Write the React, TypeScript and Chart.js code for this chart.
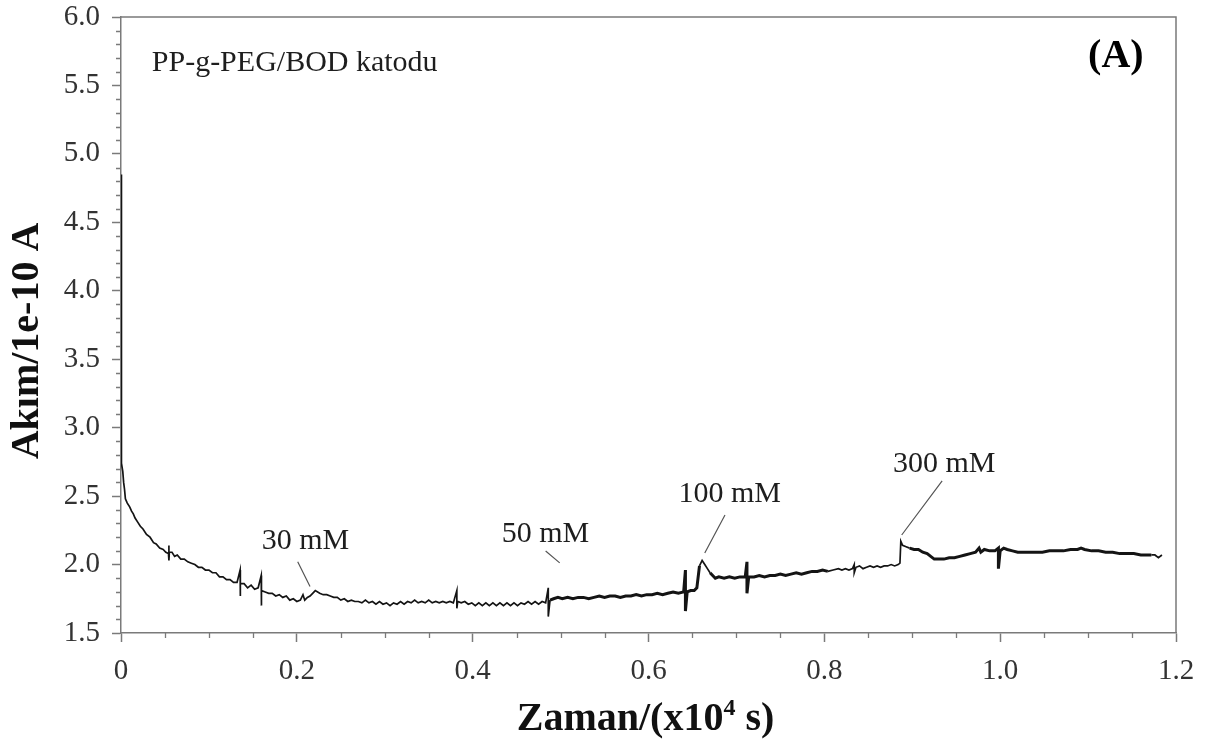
import React, { useEffect, useRef } from 'react';
import { Chart, registerables } from 'chart.js';

Chart.register(...registerables);

// ---- Data: [time (x10^4 s), current (1e-10 A)] ----
const decaySamples: [number, number][] = [
  [0, 4.85], [0.0005, 2.74], [0.002, 2.68], [0.003, 2.6], [0.004, 2.55], [0.005, 2.48],
  [0.007, 2.45], [0.01, 2.42], [0.012, 2.39], [0.014, 2.37], [0.016, 2.34], [0.019, 2.31],
  [0.022, 2.28], [0.025, 2.26], [0.029, 2.22], [0.033, 2.2], [0.037, 2.16], [0.04, 2.15],
  [0.044, 2.12], [0.048, 2.11], [0.051, 2.09], [0.054, 2.08], [0.0545, 2.14], [0.0545, 2.03],
  [0.055, 2.09], [0.058, 2.09], [0.061, 2.06], [0.064, 2.07], [0.068, 2.04], [0.072, 2.04],
  [0.076, 2.02], [0.08, 2.01], [0.084, 2.0], [0.088, 1.98], [0.092, 1.98], [0.096, 1.96],
  [0.1, 1.96], [0.104, 1.94], [0.108, 1.94], [0.112, 1.91], [0.116, 1.91], [0.12, 1.89],
  [0.124, 1.89], [0.128, 1.87], [0.132, 1.87], [0.1355, 1.96], [0.1355, 1.77], [0.136, 1.86],
  [0.14, 1.86], [0.144, 1.83], [0.148, 1.85], [0.152, 1.82], [0.156, 1.83], [0.1595, 1.92],
  [0.1595, 1.7], [0.16, 1.81], [0.164, 1.8], [0.168, 1.79], [0.172, 1.79], [0.176, 1.77],
  [0.18, 1.78], [0.184, 1.76], [0.188, 1.77], [0.192, 1.74], [0.196, 1.75], [0.2, 1.73],
  [0.204, 1.74], [0.207, 1.78], [0.209, 1.74], [0.212, 1.76], [0.215, 1.77], [0.218, 1.79],
  [0.221, 1.81], [0.226, 1.79], [0.23, 1.78], [0.234, 1.78], [0.238, 1.77], [0.242, 1.76],
  [0.246, 1.76], [0.25, 1.74], [0.254, 1.75], [0.258, 1.73], [0.262, 1.74], [0.266, 1.73],
  [0.27, 1.73],
];

const baselineSamples: [number, number][] = [
  [0.274, 1.72], [0.278, 1.74], [0.282, 1.72], [0.286, 1.73], [0.29, 1.71], [0.294, 1.73],
  [0.298, 1.71], [0.302, 1.72], [0.306, 1.7], [0.31, 1.72], [0.314, 1.71], [0.318, 1.73],
  [0.322, 1.71], [0.326, 1.73], [0.33, 1.72], [0.334, 1.74], [0.338, 1.72], [0.342, 1.73],
  [0.346, 1.72], [0.35, 1.74], [0.354, 1.72], [0.358, 1.73], [0.362, 1.72], [0.366, 1.73],
  [0.37, 1.72], [0.374, 1.73], [0.378, 1.72], [0.382, 1.81], [0.382, 1.68], [0.383, 1.73],
  [0.387, 1.72], [0.391, 1.73], [0.395, 1.71], [0.399, 1.72], [0.403, 1.7], [0.407, 1.72],
  [0.411, 1.7], [0.415, 1.72], [0.419, 1.7], [0.423, 1.72], [0.427, 1.7], [0.431, 1.72],
  [0.435, 1.7], [0.439, 1.72], [0.443, 1.7], [0.447, 1.72], [0.451, 1.7], [0.455, 1.72],
  [0.459, 1.71], [0.463, 1.73], [0.467, 1.71], [0.471, 1.73], [0.475, 1.71], [0.479, 1.73],
  [0.483, 1.72], [0.486, 1.83], [0.486, 1.62], [0.488, 1.74],
];

const rampSamples: [number, number][] = [
  [0.492, 1.75], [0.497, 1.76], [0.502, 1.75], [0.508, 1.76], [0.514, 1.75], [0.52, 1.76],
  [0.526, 1.76], [0.532, 1.75], [0.538, 1.76], [0.544, 1.77], [0.55, 1.76], [0.556, 1.77],
  [0.562, 1.77], [0.568, 1.76], [0.574, 1.77], [0.58, 1.77], [0.586, 1.78], [0.592, 1.77],
  [0.598, 1.78], [0.604, 1.78], [0.61, 1.79], [0.616, 1.78], [0.622, 1.79], [0.628, 1.8],
  [0.634, 1.79], [0.64, 1.8], [0.642, 1.96], [0.642, 1.66], [0.644, 1.8], [0.648, 1.81],
  [0.652, 1.81], [0.655, 1.83],
];

const step100Samples: [number, number][] = [
  [0.658, 1.99], [0.661, 2.03], [0.664, 2.0], [0.667, 1.97], [0.67, 1.94], [0.673, 1.92],
  [0.676, 1.9], [0.68, 1.91], [0.686, 1.9], [0.692, 1.91], [0.698, 1.9], [0.704, 1.91],
  [0.71, 1.91], [0.712, 2.02], [0.712, 1.79], [0.714, 1.91], [0.72, 1.91], [0.726, 1.92],
  [0.732, 1.91], [0.738, 1.92], [0.744, 1.92], [0.75, 1.93], [0.756, 1.92], [0.762, 1.93],
  [0.768, 1.94], [0.774, 1.93], [0.78, 1.94], [0.786, 1.95], [0.792, 1.95], [0.798, 1.96],
  [0.804, 1.95], [0.81, 1.96], [0.816, 1.97], [0.82, 1.96], [0.824, 1.97], [0.828, 1.96],
  [0.832, 1.97], [0.834, 2.0], [0.834, 1.94], [0.836, 1.98], [0.84, 1.99], [0.844, 1.97],
  [0.848, 1.98], [0.852, 1.99], [0.856, 1.98], [0.86, 1.99], [0.864, 1.98], [0.868, 1.99],
  [0.872, 1.99], [0.876, 2.0], [0.88, 1.99], [0.884, 2.0], [0.886, 2.01],
];

const step300Samples: [number, number][] = [
  [0.887, 2.17], [0.889, 2.14], [0.893, 2.13], [0.897, 2.12], [0.902, 2.11], [0.907, 2.11],
  [0.912, 2.09], [0.917, 2.08], [0.921, 2.06], [0.925, 2.04], [0.93, 2.04], [0.936, 2.04],
  [0.942, 2.05], [0.948, 2.05], [0.954, 2.06], [0.96, 2.07], [0.966, 2.08], [0.972, 2.09],
  [0.976, 2.12], [0.978, 2.09], [0.982, 2.11], [0.988, 2.1], [0.994, 2.1], [0.998, 2.12],
  [0.998, 1.97], [1.0, 2.1], [1.004, 2.12], [1.008, 2.11], [1.014, 2.1], [1.02, 2.09],
  [1.026, 2.09], [1.032, 2.09], [1.04, 2.09], [1.048, 2.09], [1.056, 2.1], [1.064, 2.1],
  [1.072, 2.1], [1.08, 2.11], [1.088, 2.11], [1.092, 2.12], [1.096, 2.11], [1.104, 2.1],
  [1.112, 2.1], [1.12, 2.09], [1.128, 2.09], [1.136, 2.08], [1.144, 2.08], [1.152, 2.08],
  [1.16, 2.07], [1.166, 2.07], [1.172, 2.07], [1.176, 2.07], [1.18, 2.05], [1.184, 2.07],
];

// ---- Axis ranges / ticks ----
const xRange = [0, 1.2];
const xStep = 0.2;
const yRange = [1.5, 6.0];
const yStep = 0.5;

// ---- Text ----
const xTitleMain = 'Zaman/(x10';
const xTitleSup = '4';
const xTitleEnd = ' s)';
const yTitle = 'Akım/1e-10 A';
const sampleLabel = 'PP-g-PEG/BOD katodu';
const panelLabel = '(A)';
const sampleLabelPos = [0.035, 5.606];
const panelLabelPos = [1.1, 5.635];

// ---- Concentration annotations (data units) ----
const annotationLabels = ['30 mM', '50 mM', '100 mM', '300 mM'];
const annotationTextX = [0.16, 0.433, 0.634, 0.878];
const annotationTextY = [2.114, 2.167, 2.457, 2.679];
const leaderFrom: [number, number][] = [[0.201, 2.021], [0.483, 2.099], [0.687, 2.362], [0.934, 2.611]];
const leaderTo: [number, number][] = [[0.215, 1.839], [0.499, 2.012], [0.664, 2.085], [0.888, 2.216]];

const SERIF = '"Liberation Serif", "Times New Roman", serif';
const AXIS_COLOR = '#7a7a7a';
const TICK_TEXT = '#333333';

const decorPlugin = {
  id: 'decor',
  afterDraw(chart: any) {
    const { ctx, chartArea, scales } = chart;
    const { left, right, top, bottom } = chartArea;
    const x = scales.x;
    const y = scales.y;
    ctx.save();
    // frame top & right
    ctx.strokeStyle = AXIS_COLOR;
    ctx.lineWidth = 1.5;
    ctx.beginPath();
    ctx.moveTo(left, top);
    ctx.lineTo(right, top);
    ctx.lineTo(right, bottom);
    ctx.stroke();
    // minor ticks
    ctx.lineWidth = 1.3;
    ctx.beginPath();
    for (let i = 15; i <= 60; i++) {
      if (i % 5 === 0) continue;
      const py = Math.round(y.getPixelForValue(i / 10)) + 0.5;
      ctx.moveTo(left - 5, py);
      ctx.lineTo(left, py);
    }
    for (let i = 0; i <= 24; i++) {
      if (i % 4 === 0) continue;
      const px = Math.round(x.getPixelForValue(i * 0.05)) + 0.5;
      ctx.moveTo(px, bottom);
      ctx.lineTo(px, bottom + 5);
    }
    ctx.stroke();

    // annotations
    ctx.fillStyle = '#1e1e1e';
    ctx.textAlign = 'left';
    ctx.textBaseline = 'alphabetic';
    ctx.font = `30px ${SERIF}`;
    annotationLabels.forEach((label, i) => {
      ctx.fillText(label, x.getPixelForValue(annotationTextX[i]), y.getPixelForValue(annotationTextY[i]));
    });
    ctx.strokeStyle = '#555';
    ctx.lineWidth = 1.2;
    ctx.beginPath();
    leaderFrom.forEach((p, i) => {
      ctx.moveTo(x.getPixelForValue(p[0]), y.getPixelForValue(p[1]));
      ctx.lineTo(x.getPixelForValue(leaderTo[i][0]), y.getPixelForValue(leaderTo[i][1]));
    });
    ctx.stroke();

    ctx.font = `30px ${SERIF}`;
    ctx.fillText(sampleLabel, x.getPixelForValue(sampleLabelPos[0]), y.getPixelForValue(sampleLabelPos[1]));
    ctx.fillStyle = '#000';
    ctx.font = `bold 40px ${SERIF}`;
    ctx.fillText(panelLabel, x.getPixelForValue(panelLabelPos[0]), y.getPixelForValue(panelLabelPos[1]));

    // axis titles
    ctx.fillStyle = '#111';
    ctx.font = `bold 40px ${SERIF}`;
    const mainW = ctx.measureText(xTitleMain).width;
    const endW = ctx.measureText(xTitleEnd).width;
    ctx.font = `bold 24px ${SERIF}`;
    const supW = ctx.measureText(xTitleSup).width;
    const total = mainW + supW + endW;
    const cx = (left + right) / 2 - 3;
    const base = bottom + 97;
    let sx = cx - total / 2;
    ctx.font = `bold 40px ${SERIF}`;
    ctx.fillText(xTitleMain, sx, base);
    sx += mainW;
    ctx.font = `bold 24px ${SERIF}`;
    ctx.fillText(xTitleSup, sx, base - 15);
    sx += supW;
    ctx.font = `bold 40px ${SERIF}`;
    ctx.fillText(xTitleEnd, sx, base);

    ctx.translate(left - 83, (top + bottom) / 2 + 16);
    ctx.rotate(-Math.PI / 2);
    ctx.textAlign = 'center';
    ctx.fillText(yTitle, 0, 0);
    ctx.restore();
  },
};

const thickRanges: [number, number][] = [[0.488, 0.656], [0.668, 0.8], [0.895, 1.17]];

export default function App() {
  const canvasRef = useRef<HTMLCanvasElement | null>(null);

  useEffect(() => {
    if (!canvasRef.current) return;
    const points = [...decaySamples, ...baselineSamples, ...rampSamples, ...step100Samples, ...step300Samples].map(
      ([t, v]) => ({ x: t, y: v })
    );
    const chart = new Chart(canvasRef.current, {
      type: 'line',
      data: {
        datasets: [
          {
            data: points,
            borderColor: '#141414',
            borderWidth: 1.7,
            pointRadius: 0,
            tension: 0,
            fill: false,
            segment: {
              borderWidth: (c: any) => {
                const t = c.p0.parsed.x;
                return thickRanges.some(([a, b]) => t >= a && t <= b) ? 3 : 1.7;
              },
            },
          },
        ],
      },
      options: {
        animation: false,
        responsive: false,
        maintainAspectRatio: false,
        layout: { padding: { left: 0, top: 17, right: 35, bottom: 0 } },
        plugins: { legend: { display: false }, tooltip: { enabled: false }, title: { display: false } },
        scales: {
          x: {
            type: 'linear',
            min: xRange[0],
            max: xRange[1],
            afterFit: (s: any) => {
              s.height = 114;
              s.paddingLeft = 0;
              s.paddingRight = 0;
            },
            ticks: {
              stepSize: xStep,
              autoSkip: false,
              maxRotation: 0,
              padding: 12,
              color: TICK_TEXT,
              font: { family: SERIF, size: 29 },
              callback: (v: any) => (Number(v) === 0 ? '0' : Number(v).toFixed(1)),
            },
            grid: { drawOnChartArea: false, drawTicks: true, tickLength: 9, color: AXIS_COLOR, tickWidth: 1.5 },
            border: { display: true, color: AXIS_COLOR, width: 1.5 },
          },
          y: {
            type: 'linear',
            min: yRange[0],
            max: yRange[1],
            afterFit: (s: any) => {
              s.width = 121;
              s.paddingTop = 0;
              s.paddingBottom = 0;
            },
            ticks: {
              stepSize: yStep,
              padding: 12,
              color: TICK_TEXT,
              font: { family: SERIF, size: 29 },
              callback: (v: any) => Number(v).toFixed(1),
            },
            grid: { drawOnChartArea: false, drawTicks: true, tickLength: 9, color: AXIS_COLOR, tickWidth: 1.5 },
            border: { display: true, color: AXIS_COLOR, width: 1.5 },
          },
        },
      },
      plugins: [decorPlugin],
    } as any);
    return () => chart.destroy();
  }, []);

  return (
    <div style={{ position: 'absolute', left: 0, top: 0, width: 1211, height: 747, background: '#fff' }}>
      <canvas ref={canvasRef} width={1211} height={747} style={{ width: 1211, height: 747, display: 'block' }} />
    </div>
  );
}
